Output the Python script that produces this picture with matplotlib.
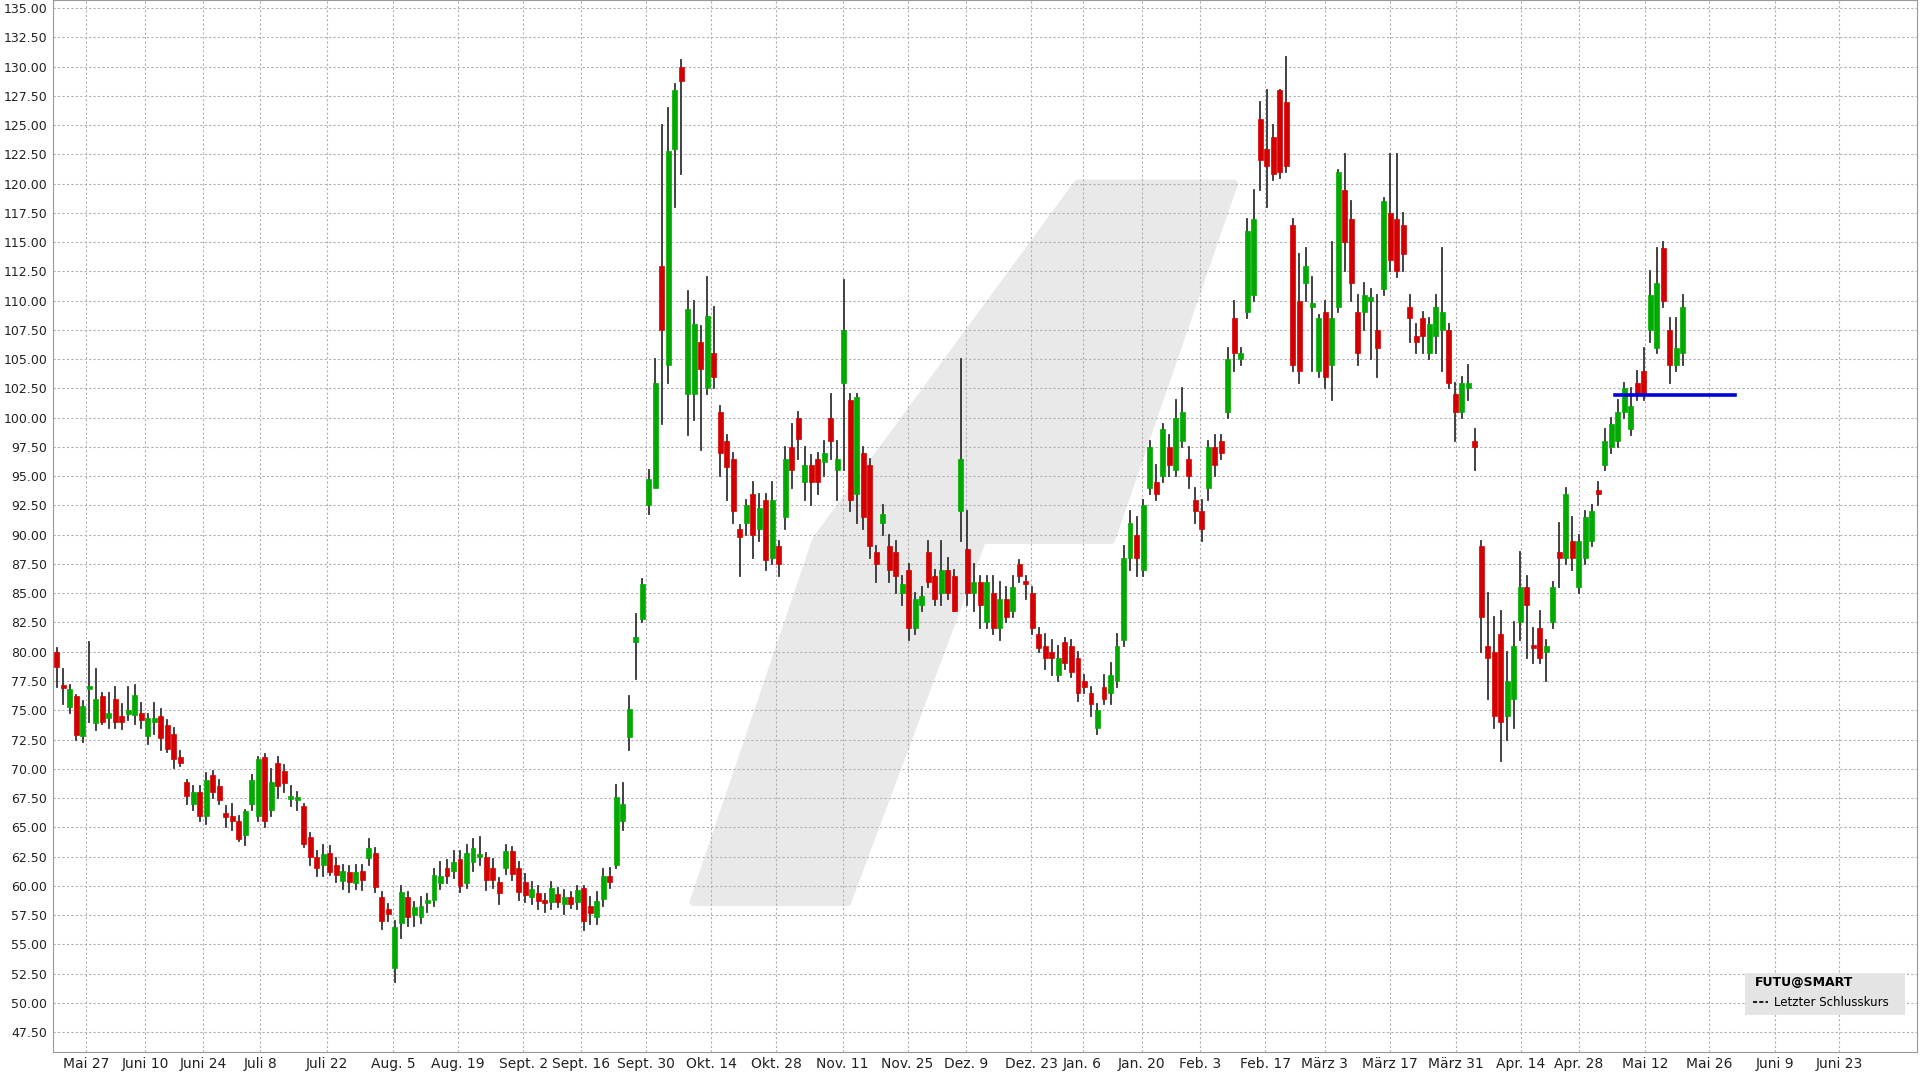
import matplotlib
matplotlib.use("Agg")
import matplotlib.pyplot as plt
from matplotlib.patches import Polygon, Rectangle

# daily candles (open, high, low, close)
may_jul = [
    (80.0, 80.3, 77.0, 78.7), (77.2, 78.5, 75.5, 76.9), (75.3, 77.2, 74.8, 76.8), (76.2, 76.3, 72.5, 72.9),
    (72.8, 75.8, 72.3, 75.4), (76.8, 80.8, 74.0, 77.0), (73.9, 78.5, 73.3, 76.0), (76.2, 76.5, 73.8, 74.0),
    (74.3, 76.5, 73.5, 74.8), (76.0, 77.0, 73.5, 74.0), (74.5, 75.5, 73.4, 74.0), (74.7, 77.0, 74.2, 75.0),
    (74.6, 77.2, 73.8, 76.3), (74.8, 75.6, 73.5, 74.2), (72.8, 74.7, 72.1, 74.3), (74.0, 75.6, 73.0, 74.3),
    (74.5, 75.1, 71.6, 72.6), (73.7, 74.2, 71.4, 71.7), (73.0, 73.5, 70.1, 70.8), (71.0, 71.5, 70.2, 70.5),
    (68.9, 69.0, 67.0, 67.7), (67.0, 68.5, 66.5, 68.0), (68.0, 68.5, 65.5, 66.0), (66.0, 69.6, 65.3, 69.0),
    (69.5, 69.8, 67.5, 68.0), (68.5, 69.0, 67.0, 67.3), (66.2, 66.8, 65.0, 65.9), (66.0, 67.0, 64.8, 65.5),
    (65.5, 66.0, 63.8, 64.0), (64.3, 66.5, 63.5, 66.4), (67.0, 69.5, 66.5, 69.0), (66.0, 71.0, 65.5, 70.8),
    (71.0, 71.3, 65.0, 65.5), (66.5, 70.0, 66.0, 68.9), (70.5, 71.0, 67.5, 68.5), (69.8, 70.3, 68.0, 68.8),
    (67.4, 68.5, 66.8, 67.6), (67.3, 68.0, 66.5, 67.5), (66.8, 67.0, 63.3, 63.6), (64.2, 64.5, 61.8, 62.5),
    (62.5, 63.0, 60.8, 61.5), (61.8, 63.5, 60.8, 62.7), (62.8, 63.4, 60.9, 61.2), (61.8, 62.4, 60.3, 60.9),
    (60.4, 61.8, 59.7, 61.3), (61.2, 61.7, 59.5, 60.3), (60.2, 61.8, 59.7, 61.2), (61.3, 61.8, 59.6, 60.5),
    (62.4, 64.0, 61.8, 63.2), (62.8, 63.2, 59.5, 59.9),
]
aug_sep = [
    (59.0, 59.5, 56.3, 57.0), (58.0, 58.4, 57.0, 57.6), (53.0, 57.0, 51.8, 56.5), (56.8, 60.0, 55.5, 59.5),
    (59.0, 59.5, 56.6, 57.3), (57.5, 58.6, 56.6, 58.2), (57.3, 59.0, 56.8, 58.3), (58.5, 59.3, 57.8, 58.8),
    (58.8, 61.4, 58.3, 60.9), (60.2, 62.0, 59.7, 60.8), (61.5, 62.2, 60.2, 60.8), (61.3, 63.0, 60.7, 62.0),
    (62.3, 63.0, 59.5, 60.0), (60.2, 63.5, 59.8, 62.8), (62.0, 64.0, 61.3, 63.2), (62.5, 64.2, 61.8, 62.7),
    (62.5, 62.8, 59.6, 60.5), (61.5, 62.3, 59.8, 60.5), (60.3, 60.7, 58.4, 59.4), (61.5, 63.5, 61.0, 63.0),
    (63.0, 63.3, 60.5, 61.0), (61.5, 62.0, 58.8, 59.5), (60.3, 61.0, 58.6, 59.2), (59.0, 60.3, 58.4, 59.7),
    (59.4, 60.0, 58.0, 58.7), (58.8, 59.3, 57.8, 58.5), (58.6, 60.3, 58.0, 59.8), (59.3, 59.8, 58.2, 58.6),
    (58.4, 59.6, 57.6, 59.0), (59.0, 59.5, 58.1, 58.4), (58.6, 60.0, 58.0, 59.6), (59.8, 60.0, 56.2, 57.0),
    (58.3, 59.0, 56.7, 57.7), (57.3, 59.5, 56.7, 58.7), (58.9, 61.4, 58.3, 60.8), (60.8, 61.5, 59.8, 60.3),
    (61.8, 68.6, 61.5, 67.6), (65.5, 68.8, 64.8, 67.0), (72.7, 76.2, 71.6, 75.1), (80.8, 83.2, 77.7, 81.3),
    (82.8, 86.2, 82.5, 85.8), (92.5, 95.5, 91.8, 94.8), (94.0, 105.0, 94.5, 103.0), (113.0, 125.0, 99.5, 107.5),
    (104.5, 126.5, 103.0, 122.8), (123.0, 128.5, 118.0, 128.0), (130.0, 130.6, 120.8, 128.8),
]
oct_dec = [
    (102.0, 110.8, 98.5, 109.3), (102.0, 110.0, 99.8, 108.0), (106.5, 107.8, 97.2, 104.2), (102.5, 112.0, 102.0, 108.7),
    (105.5, 109.5, 102.5, 103.5), (100.5, 101.0, 95.0, 97.0), (98.0, 98.5, 93.0, 95.8), (96.5, 97.0, 91.0, 92.0),
    (90.5, 90.8, 86.5, 89.8), (91.0, 93.0, 90.0, 92.5), (93.5, 94.5, 88.0, 90.0), (90.5, 93.5, 89.5, 92.3),
    (93.0, 93.5, 87.0, 87.8), (88.0, 94.5, 87.5, 93.0), (89.0, 89.5, 86.5, 87.5), (91.5, 97.5, 90.5, 96.5),
    (97.5, 99.5, 94.0, 95.5), (100.0, 100.5, 96.5, 98.2), (94.5, 97.5, 93.0, 96.0), (96.0, 96.8, 92.5, 94.5),
    (96.5, 97.0, 93.5, 94.5), (96.2, 98.0, 95.0, 97.0), (100.0, 102.0, 96.5, 98.0), (95.5, 98.0, 93.0, 96.5),
    (103.0, 111.8, 95.5, 107.5), (101.5, 102.0, 92.0, 93.0), (93.5, 102.0, 91.0, 101.8), (97.0, 97.5, 90.5, 91.5),
    (96.0, 96.5, 88.0, 89.0), (88.5, 89.0, 86.0, 87.5), (91.0, 92.5, 90.0, 91.8), (89.0, 90.0, 86.0, 87.0),
    (88.5, 89.5, 85.0, 86.5), (85.0, 86.5, 84.0, 85.8), (87.0, 87.5, 81.0, 82.0), (82.0, 85.0, 81.5, 84.5),
    (84.0, 85.5, 83.5, 84.8), (88.5, 89.5, 85.5, 86.0), (86.5, 87.0, 84.0, 84.5), (85.0, 89.5, 84.0, 87.0),
    (87.0, 88.0, 84.5, 85.0), (86.5, 87.0, 83.5, 83.5), (92.0, 105.0, 89.5, 96.5), (88.8, 92.0, 84.0, 85.0),
    (85.0, 87.5, 83.5, 86.0), (86.0, 86.5, 82.0, 84.0), (82.5, 86.5, 82.0, 86.0), (85.0, 86.5, 81.5, 82.0),
    (82.0, 86.0, 81.0, 84.5), (84.5, 85.5, 82.5, 83.0), (83.5, 86.5, 83.0, 85.5), (87.5, 87.8, 86.0, 86.5),
    (86.0, 86.5, 84.5, 85.8), (85.0, 85.5, 81.5, 82.0), (81.5, 82.0, 80.0, 80.3),
]
jan_mar = [
    (80.5, 81.5, 78.5, 79.5), (80.0, 81.0, 78.0, 79.5), (78.0, 80.5, 77.5, 79.5), (80.8, 81.2, 78.5, 79.0),
    (80.5, 81.0, 77.8, 78.3), (79.5, 80.0, 75.8, 76.5), (77.5, 78.0, 76.5, 77.0), (76.5, 77.0, 74.5, 75.5),
    (73.5, 75.5, 73.0, 75.0), (77.0, 78.0, 75.5, 76.0), (76.5, 79.0, 75.5, 78.0), (77.5, 81.5, 77.0, 80.5),
    (81.0, 89.0, 80.5, 88.0), (88.0, 92.0, 87.0, 91.0), (90.0, 91.5, 86.5, 88.0), (87.0, 93.0, 86.5, 92.5),
    (94.0, 98.0, 93.5, 97.5), (94.5, 96.0, 93.0, 93.5), (95.0, 99.5, 94.5, 99.0), (97.5, 98.5, 95.0, 96.0),
    (95.5, 101.5, 95.0, 100.0), (98.0, 102.5, 97.5, 100.5), (96.5, 97.5, 94.0, 95.0), (93.0, 94.0, 91.0, 92.0),
    (92.0, 93.0, 89.5, 90.5), (94.0, 98.0, 93.0, 97.5),
    (97.5, 98.5, 95.0, 96.0), (98.0, 98.5, 96.5, 97.0), (100.5, 106.0, 100.0, 105.0), (108.5, 110.0, 104.0, 105.5),
    (105.0, 106.0, 104.5, 105.5), (109.0, 117.0, 108.5, 116.0), (110.5, 119.5, 110.0, 117.0), (125.5, 127.0, 119.5, 122.0),
    (123.0, 128.0, 118.0, 121.5), (124.0, 125.0, 120.3, 120.8), (128.0, 128.0, 120.5, 121.0), (127.0, 130.8, 121.0, 121.5),
    (116.5, 117.0, 104.0, 104.5), (110.0, 114.0, 103.0, 104.0), (111.5, 114.5, 110.0, 113.0), (109.5, 112.0, 104.0, 109.8),
    (104.0, 108.8, 103.5, 108.5), (109.0, 110.0, 102.5, 103.5), (104.5, 115.0, 101.5, 108.5), (109.5, 121.2, 109.0, 121.0),
    (119.5, 122.5, 112.5, 115.0), (117.0, 118.5, 110.0, 111.5), (109.0, 110.5, 104.5, 105.5), (109.0, 111.5, 107.5, 110.5),
    (110.0, 111.0, 105.0, 110.3), (107.5, 110.5, 103.5, 106.0), (111.0, 118.8, 110.5, 118.5), (117.5, 122.5, 112.5, 113.5),
    (117.0, 122.5, 112.0, 112.5), (116.5, 117.5, 112.5, 114.0),
]
apr_may = [
    (109.5, 110.5, 106.5, 108.5), (107.0, 108.0, 105.5, 106.5), (108.5, 109.0, 105.5, 107.0), (105.5, 108.5, 105.0, 108.0),
    (107.0, 110.5, 105.5, 109.5), (107.5, 114.5, 104.0, 109.0), (107.5, 108.0, 102.5, 103.0), (102.0, 103.0, 98.0, 100.5),
    (100.5, 103.5, 100.0, 103.0), (102.5, 104.5, 101.5, 103.0), (98.0, 99.0, 95.5, 97.5), (89.0, 89.5, 80.0, 83.0),
    (80.5, 85.0, 76.0, 79.5), (80.0, 83.0, 73.5, 74.5), (81.5, 83.5, 70.7, 74.0), (74.5, 80.0, 72.5, 77.5),
    (76.0, 82.5, 73.5, 80.5), (82.5, 88.5, 81.0, 85.5), (85.5, 86.5, 79.5, 84.0), (80.5, 82.0, 79.0, 80.3),
    (82.0, 83.5, 79.0, 79.5), (80.0, 81.0, 77.5, 80.5), (82.5, 86.0, 82.0, 85.5), (88.5, 91.0, 85.5, 88.0),
    (88.0, 94.0, 87.5, 93.5), (89.5, 91.5, 87.0, 88.0), (85.5, 90.0, 85.0, 89.5), (88.0, 92.0, 87.5, 91.5),
    (89.5, 92.5, 89.0, 92.0), (93.8, 94.5, 92.5, 93.5), (96.0, 99.0, 95.5, 98.0), (97.5, 100.0, 97.0, 99.5),
    (98.0, 101.5, 97.5, 100.5), (100.5, 103.0, 100.0, 102.5), (99.0, 102.5, 98.5, 101.0), (103.0, 104.0, 101.5, 102.0),
    (104.0, 106.0, 101.5, 102.0), (107.5, 112.5, 106.5, 110.5), (106.0, 114.5, 105.5, 111.5), (114.5, 115.0, 109.5, 110.0),
    (107.5, 108.5, 103.0, 104.5), (104.5, 108.5, 104.0, 106.0), (105.5, 110.5, 104.5, 109.5),
]
last_close = 101.9

tick_labels = ["Mai 27", "Juni 10", "Juni 24", "Juli 8", "Juli 22", "Aug. 5", "Aug. 19", "Sept. 2",
               "Sept. 16", "Sept. 30", "Okt. 14", "Okt. 28", "Nov. 11", "Nov. 25", "Dez. 9", "Dez. 23",
               "Jan. 6", "Jan. 20", "Feb. 3", "Feb. 17", "März 3", "März 17", "März 31", "Apr. 14",
               "Apr. 28", "Mai 12", "Mai 26", "Juni 9", "Juni 23"]
tick_pos = [4.5, 13.6, 22.5, 31.3, 41.5, 51.7, 61.7, 71.7, 80.6, 90.6, 100.6, 110.6, 120.8, 130.8,
            139.8, 149.8, 157.7, 166.8, 175.8, 185.8, 194.9, 204.9, 215.1, 225.1, 234.0, 244.2,
            254.0, 264.2, 274.0]

candles = may_jul + aug_sep + oct_dec + jan_mar + apr_may

fig = plt.figure(figsize=(19.2, 10.8), dpi=100)
ax = fig.add_axes([0.0275, 0.026, 0.971, 0.974])
ax.set_xlim(-0.6, 286)
ax.set_ylim(45.8, 135.7)

# watermark shape (in reference pixel units -> data)
def px(x, y):
    return ((x - 46) / 5.3, 135 - (y - 7) / 9.531)
wm = [px(878, 150), px(1005, 150), px(905, 440), px(800, 440), px(690, 735), px(565, 735), px(665, 440)]
ax.add_patch(Polygon(wm, closed=True, facecolor="#e9e9e9", edgecolor="#e9e9e9", lw=6, zorder=0,
                     joinstyle="round"))

green, red = "#00aa00", "#d40000"
for i, (o, h, l, c) in enumerate(candles):
    col = green if c >= o else red
    ax.plot([i, i], [l, h], color="#333333", lw=1.3, zorder=2)
    lo, hi = min(o, c), max(o, c)
    ax.add_patch(Rectangle((i - 0.38, lo), 0.76, max(hi - lo, 0.25), facecolor=col,
                           edgecolor=col, lw=0.5, zorder=3))

n = len(candles)
ax.plot([n - 11.5, n + 7], [last_close, last_close], color="#0000dd", lw=2.6, zorder=4)

yt = [47.5 + 2.5 * k for k in range(36)]
ax.set_yticks(yt)
ax.set_yticklabels([f"{v:.2f}" for v in yt], fontsize=9, color="#222222")
ax.set_xticks(tick_pos)
ax.set_xticklabels(tick_labels, fontsize=10, color="#222222")
ax.tick_params(length=0, pad=4)
ax.grid(True, color="#b0b0b0", linestyle=(0, (2, 2)), lw=0.8)
ax.set_axisbelow(True)
for s in ax.spines.values():
    s.set_color("#999999")

# legend box
ax.add_patch(Rectangle((0.9075, 0.035), 0.086, 0.04, transform=ax.transAxes,
                       facecolor="#e4e4e4", edgecolor="none", zorder=5))
ax.text(0.913, 0.066, "FUTU@SMART", transform=ax.transAxes, fontsize=9, fontweight="bold",
        va="center", zorder=6)
ax.plot([0.912, 0.92], [0.047, 0.047], transform=ax.transAxes, color="#222222", lw=1.5,
        ls=(0, (2, 1)), zorder=6)
ax.text(0.923, 0.047, "Letzter Schlusskurs", transform=ax.transAxes, fontsize=8.5,
        va="center", zorder=6)

fig.savefig("out.png", dpi=100)
